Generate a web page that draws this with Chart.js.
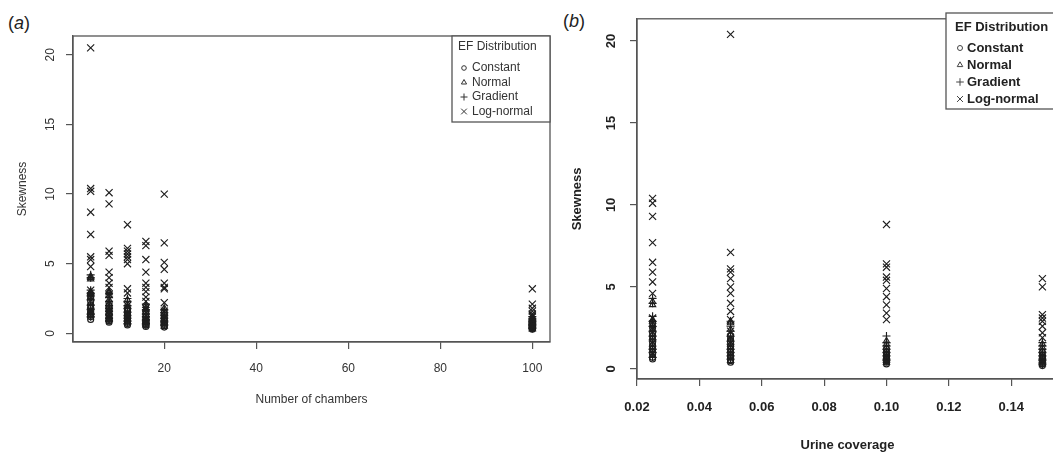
<!DOCTYPE html>
<html><head><meta charset="utf-8">
<script src="https://cdn.jsdelivr.net/npm/chart.js@4.4.0/dist/chart.umd.min.js"></script>
<style>
html,body{margin:0;padding:0;background:#fff;overflow:hidden;width:1053px;height:453px;position:relative;}
#ca{position:absolute;left:0;top:0;}
#cb{position:absolute;left:560px;top:0;}
.lab{position:absolute;font-family:"Liberation Sans",Arial,sans-serif;font-size:18px;color:#222;line-height:20px;}
</style></head><body>
<div class="lab" style="left:8px;top:13px">(<i>a</i>)</div>
<div class="lab" style="left:563px;top:11px">(<i>b</i>)</div>
<canvas id="ca" width="560" height="453"></canvas>
<canvas id="cb" width="520" height="453"></canvas>
<script>
// ---------------- DATA ----------------
const seriesNames = ['Constant', 'Normal', 'Gradient', 'Log-normal'];
const yTickValues = [0, 5, 10, 15, 20];

// Panel (a): skewness vs number of chambers
const chambers = [4, 8, 12, 16, 20, 100];
const chamberTicks = [20, 40, 60, 80, 100];
const aConstant = [
  [1.0, 1.2, 1.3, 1.4, 1.5, 1.6, 1.8, 2.0, 2.3, 2.6, 2.8],
  [0.8, 0.9, 1.0, 1.1, 1.3, 1.4, 1.6, 1.8, 2.0, 2.2],
  [0.6, 0.7, 0.8, 0.9, 1.0, 1.2, 1.4, 1.6, 1.8],
  [0.5, 0.6, 0.7, 0.8, 0.9, 1.0, 1.2, 1.4, 1.6],
  [0.45, 0.55, 0.65, 0.75, 0.85, 1.0, 1.1, 1.3, 1.5],
  [0.3, 0.35, 0.4, 0.45, 0.5, 0.55, 0.6, 0.65, 0.7, 0.8]
];
const aNormal = [
  [1.3, 1.5, 1.9, 2.2, 2.6, 2.8, 2.9, 3.0, 3.9, 4.0, 4.1],
  [1.0, 1.2, 1.5, 1.7, 1.9, 2.1, 2.4, 2.7, 2.9, 3.0],
  [0.8, 1.0, 1.2, 1.4, 1.7, 1.9, 2.1, 2.4],
  [0.6, 0.8, 0.9, 1.1, 1.3, 1.5, 1.8, 2.0],
  [0.5, 0.7, 0.8, 1.0, 1.2, 1.4, 1.6, 1.8],
  [0.3, 0.4, 0.5, 0.6, 0.7, 0.8, 0.9, 1.0, 1.1]
];
const aGradient = [
  [1.2, 1.4, 1.7, 2.0, 2.4, 2.7, 2.9, 3.1, 4.0, 4.2],
  [0.9, 1.1, 1.3, 1.6, 1.8, 2.0, 2.3, 2.6, 2.9],
  [0.7, 0.9, 1.1, 1.3, 1.5, 1.8, 2.0, 2.3, 2.5],
  [0.6, 0.7, 0.9, 1.0, 1.2, 1.4, 1.7, 2.1],
  [0.6, 0.8, 0.9, 1.1, 1.3, 1.5, 1.7],
  [0.35, 0.45, 0.55, 0.65, 0.75, 0.85, 0.95, 1.05, 1.2]
];
const aLognormal = [
  [20.5, 10.4, 10.2, 8.7, 7.1, 5.5, 5.3, 4.8, 3.1, 2.6, 1.6],
  [10.1, 9.3, 5.9, 5.6, 4.4, 4.0, 3.6, 3.3, 2.8, 1.6],
  [7.8, 6.1, 5.9, 5.7, 5.5, 5.3, 5.0, 3.2, 2.9, 2.0],
  [6.6, 6.3, 5.3, 4.4, 3.6, 3.3, 3.0, 2.6, 2.3, 1.8],
  [10.0, 6.5, 5.1, 4.6, 3.6, 3.3, 3.2, 2.2, 1.6],
  [3.2, 2.1, 1.8, 1.6, 1.4, 1.3, 1.2]
];

// Panel (b): skewness vs urine coverage
const coverage = [0.025, 0.05, 0.10, 0.15];
const coverageTicks = [0.02, 0.04, 0.06, 0.08, 0.10, 0.12, 0.14];
const bConstant = [
  [0.6, 0.7, 0.9, 1.0, 1.2, 1.4, 1.6, 1.8, 2.0, 2.2, 2.5, 2.8],
  [0.4, 0.5, 0.7, 0.8, 1.0, 1.2, 1.4, 1.6, 1.8, 2.0],
  [0.3, 0.4, 0.5, 0.6, 0.7, 0.8, 0.9, 1.0, 1.2],
  [0.2, 0.3, 0.4, 0.5, 0.6, 0.7, 0.8, 1.0]
];
const bNormal = [
  [0.8, 1.1, 1.3, 1.5, 1.9, 2.1, 2.4, 2.7, 2.9, 3.0, 3.9, 4.1],
  [0.5, 0.7, 0.9, 1.1, 1.3, 1.5, 1.8, 2.1, 2.4, 2.8, 2.9],
  [0.4, 0.5, 0.7, 0.9, 1.1, 1.3, 1.5, 1.7],
  [0.3, 0.4, 0.5, 0.7, 0.9, 1.1, 1.3, 1.5]
];
const bGradient = [
  [0.7, 1.0, 1.2, 1.7, 2.0, 2.3, 2.6, 2.9, 3.2, 4.0, 4.3],
  [0.6, 0.8, 1.0, 1.2, 1.5, 1.7, 2.0, 2.3, 2.6, 2.9],
  [0.5, 0.6, 0.8, 1.0, 1.2, 1.4, 1.6, 2.0],
  [0.3, 0.5, 0.6, 0.8, 1.0, 1.2, 1.4, 1.6]
];
const bLognormal = [
  [10.4, 10.1, 9.3, 7.7, 6.5, 5.9, 5.3, 4.6, 3.1, 2.4],
  [20.4, 7.1, 6.1, 5.9, 5.5, 5.0, 4.6, 4.0, 3.5, 3.0, 2.3],
  [8.8, 6.4, 6.2, 5.6, 5.4, 4.9, 4.4, 3.9, 3.4, 3.0],
  [5.5, 5.0, 3.3, 3.1, 2.9, 2.6, 2.2, 1.9]
];

// ---------------- HELPERS ----------------
function toPoints(xs, groups) {
  const pts = [];
  xs.forEach((x, i) => groups[i].forEach(y => pts.push({ x: x, y: y })));
  return pts;
}
const styles = [
  { pointStyle: 'circle', r: 3 },
  { pointStyle: 'triangle', r: 3.6 },
  { pointStyle: 'cross', r: 4 },
  { pointStyle: 'crossRot', r: 5 }
];
function makeDatasets(xs, lists, color) {
  return lists.map((g, i) => ({
    label: seriesNames[i],
    data: toPoints(xs, g),
    pointStyle: styles[i].pointStyle,
    pointRadius: styles[i].r,
    pointHoverRadius: styles[i].r,
    pointBorderWidth: 1.15,
    borderColor: color,
    pointBorderColor: color,
    backgroundColor: 'rgba(0,0,0,0)',
    pointBackgroundColor: 'rgba(0,0,0,0)',
    showLine: false
  }));
}

const boxPlugin = {
  id: 'rbox',
  afterDraw(chart, args, opts) {
    const { ctx, chartArea: a } = chart;
    ctx.save();
    ctx.strokeStyle = opts.color;
    ctx.lineWidth = opts.width;
    ctx.strokeRect(a.left, a.top, a.right - a.left, a.bottom - a.top);
    // legend
    const L = opts.legend;
    ctx.fillStyle = '#fff';
    ctx.fillRect(L.left, L.top, L.right - L.left, L.bottom - L.top);
    ctx.strokeRect(L.left, L.top, L.right - L.left, L.bottom - L.top);
    ctx.font = L.font;
    ctx.textBaseline = 'middle';
    ctx.textAlign = 'left';
    ctx.fillStyle = L.color;
    ctx.fillText(L.title, L.titleX, L.titleY);
    chart.data.datasets.forEach((ds, i) => {
      const y = L.itemY0 + i * L.step;
      ctx.fillStyle = L.color;
      ctx.fillText(ds.label, L.textX, y);
      ctx.save();
      ctx.fillStyle = 'rgba(0,0,0,0)';
      ctx.strokeStyle = L.symColor;
      ctx.lineWidth = 1;
      Chart.helpers.drawPoint(ctx, { pointStyle: ds.pointStyle, radius: L.symR[i], borderWidth: 1 }, L.symX, y);
      ctx.restore();
    });
    ctx.restore();
  }
};

function makeConfig(p) {
  return {
    type: 'scatter',
    data: { datasets: makeDatasets(p.xs, p.lists, p.markColor) },
    plugins: [boxPlugin],
    options: {
      responsive: false,
      animation: false,
      events: [],
      layout: { autoPadding: false, padding: p.padding },
      plugins: {
        legend: { display: false },
        tooltip: { enabled: false },
        rbox: { color: p.lineColor, width: 1.3, legend: p.legend }
      },
      scales: {
        x: {
          type: 'linear', position: 'bottom', min: p.xmin, max: p.xmax,
          afterBuildTicks: s => { s.ticks = p.xticks.map(v => ({ value: v })); },
          afterFit: s => { s.height = p.xAxisH; },
          ticks: { autoSkip: false, maxRotation: 0, minRotation: 0, padding: p.xTickPad,
                   font: p.tickFont, color: p.textColor, callback: p.xfmt },
          grid: { drawOnChartArea: false, drawTicks: true, tickLength: 7, color: p.lineColor, lineWidth: 1.2 },
          border: { display: true, color: p.lineColor, width: 1.3 },
          title: { display: true, text: p.xTitle, font: p.titleFont, color: p.textColor,
                   padding: { top: 0, bottom: p.xTitlePadB } }
        },
        y: {
          type: 'linear', position: 'left', min: -0.62, max: 21.35,
          afterBuildTicks: s => { s.ticks = yTickValues.map(v => ({ value: v })); },
          afterFit: s => { s.width = p.yAxisW; },
          ticks: { autoSkip: false, minRotation: 90, maxRotation: 90, crossAlign: 'center',
                   padding: p.yTickPad, font: p.tickFont, color: p.textColor,
                   callback: v => String(v) },
          grid: { drawOnChartArea: false, drawTicks: true, tickLength: 7, color: p.lineColor, lineWidth: 1.2 },
          border: { display: true, color: p.lineColor, width: 1.3 },
          title: { display: true, text: 'Skewness', font: p.titleFont, color: p.textColor,
                   padding: { top: p.yTitlePadT, bottom: 0 } }
        }
      }
    }
  };
}

const FAM = '"Liberation Sans", Arial, sans-serif';

new Chart(document.getElementById('ca'), makeConfig({
  xs: chambers,
  lists: [aConstant, aNormal, aGradient, aLognormal],
  markColor: '#1e1e1e',
  lineColor: '#555',
  textColor: '#333',
  padding: { left: 0, right: 10, top: 36, bottom: 0 },
  xmin: 0.16, xmax: 103.84, xticks: chamberTicks, xfmt: v => String(v),
  xAxisH: 111, xTickPad: 12, xTitle: 'Number of chambers', xTitlePadB: 46,
  yAxisW: 73, yTickPad: 9, yTitlePadT: 15,
  tickFont: { family: FAM, size: 12 },
  titleFont: { family: FAM, size: 12 },
  legend: {
    left: 452, top: 36, right: 550, bottom: 122,
    title: 'EF Distribution', titleX: 458, titleY: 47,
    itemY0: 68, step: 14.5, symX: 464, textX: 472, symR: [2.3, 3, 3.5, 4],
    font: '12px ' + FAM, color: '#333', symColor: '#333'
  }
}));

new Chart(document.getElementById('cb'), makeConfig({
  xs: coverage,
  lists: [bConstant, bNormal, bGradient, bLognormal],
  markColor: '#1e1e1e',
  lineColor: '#555',
  textColor: '#222',
  padding: { left: 0, right: 22, top: 13, bottom: 0 },
  xmin: 0.02, xmax: 0.155, xticks: coverageTicks, xfmt: v => v.toFixed(2),
  xAxisH: 74, xTickPad: 14, xTitle: 'Urine coverage', xTitlePadB: 0,
  yAxisW: 77, yTickPad: 11, yTitlePadT: 10,
  tickFont: { family: FAM, size: 13, weight: 'bold' },
  titleFont: { family: FAM, size: 13, weight: 'bold' },
  legend: {
    left: 386, top: 13, right: 498, bottom: 109,
    title: 'EF Distribution', titleX: 395, titleY: 27,
    itemY0: 48, step: 17, symX: 400, textX: 407, symR: [2.5, 3.2, 3.8, 4.2],
    font: 'bold 13px ' + FAM, color: '#222', symColor: '#444'
  }
}));
</script>
</body></html>
